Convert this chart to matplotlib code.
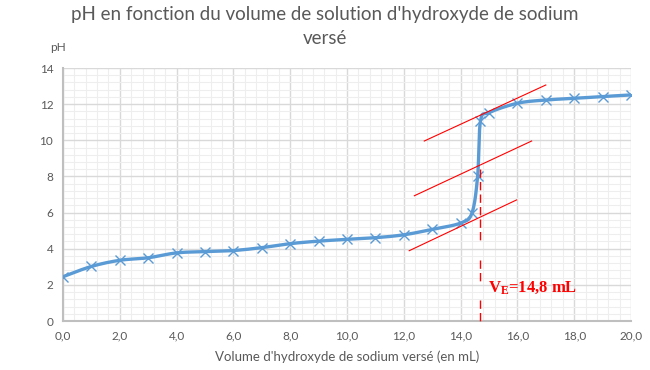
import numpy as np
import matplotlib
matplotlib.use("Agg")
import matplotlib.pyplot as plt
from matplotlib.ticker import MultipleLocator, FuncFormatter

# données
volume = [0, 1, 2, 3, 4, 5, 6, 7, 8, 9, 10, 11, 12, 13, 14,
          14.4, 14.6, 14.7, 15, 16, 17, 18, 19, 20]
ph = [2.45, 3.02, 3.36, 3.50, 3.77, 3.84, 3.90, 4.06, 4.28, 4.42, 4.52, 4.61,
      4.77, 5.07, 5.42, 5.98, 8.03, 11.07, 11.53, 12.05, 12.23, 12.32, 12.42, 12.51]

# tangentes tracées (deux points chacune)
tangente_haut = ([12.72, 17.0], [9.96, 13.06])
tangente_milieu = ([12.37, 16.5], [6.93, 9.96])
tangente_bas = ([12.19, 15.97], [3.89, 6.70])
v_equiv = 14.7
ph_equiv = 8.4

GRIS = "#595959"
BLEU = "#5B9BD5"
ROUGE = "#FF0000"

plt.rcParams["font.family"] = ["Lato", "DejaVu Sans"]
plt.rcParams["mathtext.fontset"] = "custom"
plt.rcParams["mathtext.bf"] = "Liberation Serif:bold"
plt.rcParams["mathtext.rm"] = "Liberation Serif:bold"


def courbe_lissee(x, y, n=20):
    """Courbe lissée façon Excel (spline de Catmull-Rom en Bézier)."""
    x = np.asarray(x, float)
    y = np.asarray(y, float)
    px = np.concatenate([[x[0]], x, [x[-1]]])
    py = np.concatenate([[y[0]], y, [y[-1]]])
    t = np.linspace(0, 1, n)
    xs, ys = [], []
    for i in range(1, len(px) - 2):
        p0 = np.array([px[i], py[i]])
        p3 = np.array([px[i + 1], py[i + 1]])
        p1 = p0 + (np.array([px[i + 1], py[i + 1]]) - np.array([px[i - 1], py[i - 1]])) / 6
        p2 = p3 - (np.array([px[i + 2], py[i + 2]]) - np.array([px[i], py[i]])) / 6
        b = ((1 - t) ** 3)[:, None] * p0 + (3 * (1 - t) ** 2 * t)[:, None] * p1 \
            + (3 * (1 - t) * t ** 2)[:, None] * p2 + (t ** 3)[:, None] * p3
        xs.extend(b[:, 0])
        ys.extend(b[:, 1])
    return xs, ys


fig = plt.figure(figsize=(6.5, 3.7), dpi=100)
ax = fig.add_axes([0.0969, 0.1324, 0.8739, 0.6838])

ax.set_xlim(0, 20)
ax.set_ylim(0, 14)
ax.xaxis.set_major_locator(MultipleLocator(2))
ax.xaxis.set_minor_locator(MultipleLocator(0.4))
ax.yaxis.set_major_locator(MultipleLocator(2))
ax.yaxis.set_minor_locator(MultipleLocator(0.4))
ax.xaxis.set_major_formatter(FuncFormatter(lambda v, p: f"{v:.1f}".replace(".", ",")))
ax.yaxis.set_major_formatter(FuncFormatter(lambda v, p: f"{v:.0f}"))
ax.grid(which="major", color="#D9D9D9", lw=1.0)
ax.grid(which="minor", color="#EEEEEE", lw=0.8)
ax.set_axisbelow(True)
ax.tick_params(which="both", length=0, labelsize=8.5, labelcolor=GRIS, pad=7)
for s in ["top", "right"]:
    ax.spines[s].set_visible(False)
for s in ["left", "bottom"]:
    ax.spines[s].set_color("#BFBFBF")
    ax.spines[s].set_linewidth(1.5)

# courbe
xs, ys = courbe_lissee(volume, ph)
ax.plot(xs, ys, color=BLEU, lw=2.4, zorder=3)
ax.plot(volume, ph, ls="none", marker="x", ms=6.5, mew=1.0, color=BLEU, zorder=4)

# tangentes
for tx, ty in [tangente_haut, tangente_milieu, tangente_bas]:
    ax.plot(tx, ty, color=ROUGE, lw=0.8, zorder=5)

# verticale à l'équivalence (avec les trous blancs de l'original)
for y0, y1 in [(ph_equiv, 4.4), (3.4, 2.2), (1.15, 0)]:
    ax.plot([v_equiv, v_equiv], [y0, y1], color=ROUGE, lw=1.0,
            ls=(0, (6, 3)), zorder=5, clip_on=False)

ax.text(14.96, 1.85, r"$\mathbf{V_E}$=14,8 mL", color=ROUGE, fontsize=12,
        fontweight="bold", family="Liberation Serif", va="center", ha="left")

ax.set_xlabel("Volume d'hydroxyde de sodium versé (en mL)", color=GRIS,
              fontsize=9.5, labelpad=6)
fig.text(0.077, 0.872, "pH", color=GRIS, fontsize=8.5, ha="left", va="center")
fig.suptitle("pH en fonction du volume de solution d'hydroxyde de sodium\nversé",
             color=GRIS, fontsize=13.5, y=0.985, va="top", linespacing=1.5)

fig.savefig("out.png", dpi=100)
